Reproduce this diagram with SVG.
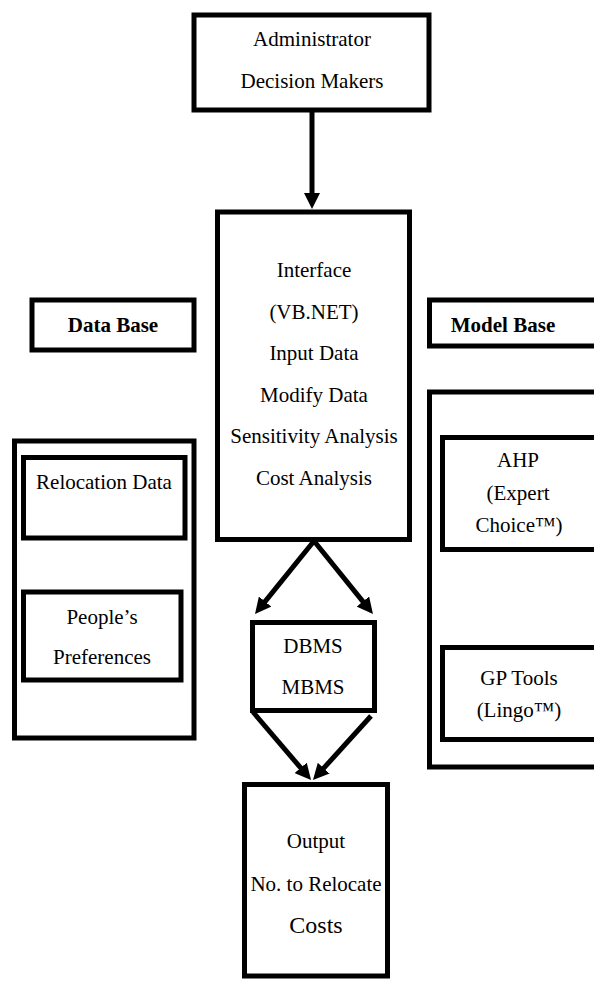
<svg xmlns="http://www.w3.org/2000/svg" width="594" height="982" viewBox="0 0 594 982">
<style>
.box{fill:none;stroke:#000;stroke-width:5}
.t{font-family:"Liberation Serif","Times New Roman",serif;font-size:21px;fill:#000;text-anchor:middle}
.b{font-weight:bold}
.c{stroke:#000;stroke-width:5;fill:none}
</style>
<defs>
<marker id="ah" markerUnits="userSpaceOnUse" markerWidth="16" markerHeight="16" viewBox="0 0 16 16" refX="3" refY="8" orient="auto">
<path d="M0,0 L16,8 L0,16 z" fill="#000"/>
</marker>
</defs>
<rect width="594" height="982" fill="#fff"/>
<g id="admin">
<rect class="box" x="194" y="15" width="235" height="95"/>
<text class="t" x="312" y="46">Administrator</text>
<text class="t" x="312" y="88">Decision Makers</text>
</g>
<g id="interface">
<rect class="box" x="217.5" y="212" width="192" height="327.5"/>
<text class="t" x="314" y="277">Interface</text>
<text class="t" x="314" y="318.5">(VB.NET)</text>
<text class="t" x="314" y="360">Input Data</text>
<text class="t" x="314" y="401.5">Modify Data</text>
<text class="t" x="314" y="443">Sensitivity Analysis</text>
<text class="t" x="314" y="484.5">Cost Analysis</text>
</g>
<g id="database-label">
<rect class="box" x="32" y="300" width="162" height="50"/>
<text class="t b" x="113" y="332">Data Base</text>
</g>
<g id="modelbase-label">
<rect class="box" x="429.5" y="300" width="180" height="46"/>
<text class="t b" x="503" y="332">Model Base</text>
</g>
<g id="database">
<rect class="box" x="14.5" y="441" width="179.5" height="297"/>
</g>
<g id="relocation-data">
<rect class="box" x="23.5" y="457.5" width="161.5" height="80.5"/>
<text class="t" x="104" y="489">Relocation Data</text>
</g>
<g id="preferences">
<rect class="box" x="23.5" y="592" width="157.5" height="88"/>
<text class="t" x="102" y="624">People’s</text>
<text class="t" x="102" y="664">Preferences</text>
</g>
<g id="modelbase">
<rect class="box" x="429.5" y="392" width="180" height="375"/>
</g>
<g id="ahp">
<rect class="box" x="442.5" y="437.5" width="170" height="112"/>
<text class="t" x="518" y="467">AHP</text>
<text class="t" x="518" y="499.5">(Expert</text>
<text class="t" x="519" y="532">Choice™)</text>
</g>
<g id="gp">
<rect class="box" x="442.5" y="647.5" width="170" height="92"/>
<text class="t" x="519" y="685">GP Tools</text>
<text class="t" x="519" y="717">(Lingo™)</text>
</g>
<g id="dbms">
<rect class="box" x="252.5" y="622.5" width="122" height="88"/>
<text class="t" x="313" y="653">DBMS</text>
<text class="t" x="313" y="694">MBMS</text>
</g>
<g id="output">
<rect class="box" x="244.5" y="784.5" width="143" height="191.5"/>
<text class="t" x="316" y="848">Output</text>
<text class="t" x="316" y="891">No. to Relocate</text>
<text class="t" x="316" y="933" style="font-size:24px">Costs</text>
</g>
<g id="connectors">
<line class="c" x1="312" y1="112" x2="312" y2="196" marker-end="url(#ah)"/>
<line class="c" x1="314" y1="541" x2="263.2" y2="603.9" marker-end="url(#ah)"/>
<line class="c" x1="314" y1="541" x2="364.8" y2="603.9" marker-end="url(#ah)"/>
<line class="c" x1="253" y1="712" x2="302.6" y2="770.1" marker-end="url(#ah)"/>
<line class="c" x1="371" y1="716" x2="321.7" y2="770.4" marker-end="url(#ah)"/>
</g>
</svg>
